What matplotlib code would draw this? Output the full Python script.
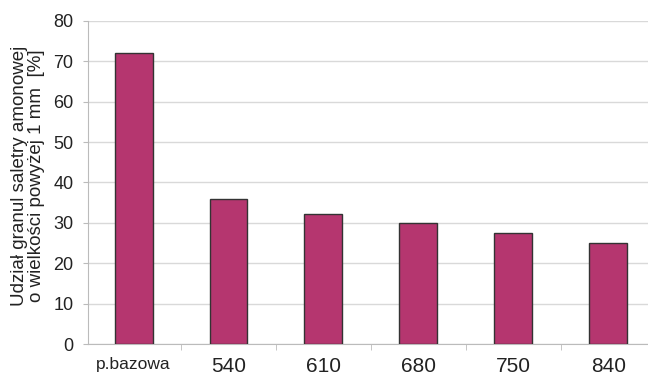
import matplotlib
matplotlib.use('Agg')
import matplotlib.pyplot as plt
import numpy as np

plt.rcParams['font.family'] = ['Liberation Sans', 'DejaVu Sans']

categories = ['p.bazowa', '540', '610', '680', '750', '840']
values = [72.0, 36.0, 32.3, 30.0, 27.6, 24.9]
yticks = [0, 10, 20, 30, 40, 50, 60, 70, 80]

fig = plt.figure(figsize=(6.48, 3.77), dpi=100)
ax = fig.add_axes([0.1358, 0.0875, 0.879, 0.857])

x = np.arange(len(categories))
ax.bar(x, values, width=0.4, color='#B5366F', edgecolor='#333333', linewidth=1.0, zorder=3)

ax.set_xlim(-0.48, len(categories) - 0.48)
ax.set_ylim(0, 80)
ax.set_yticks(yticks)
ax.set_yticklabels([str(t) for t in yticks], fontsize=13, color='#222222')
ax.yaxis.grid(True, color='#d9d9d9', linewidth=1.0, zorder=0)

ax.set_xticks(x)
ax.set_xticklabels(categories, color='#222222')
for i, lbl in enumerate(ax.get_xticklabels()):
    lbl.set_fontsize(12.5 if i == 0 else 15)
ax.set_xticks(np.arange(len(categories)) + 0.5, minor=True)
ax.tick_params(axis='x', which='major', length=0, pad=9)
ax.tick_params(axis='x', which='minor', length=4, color='#bbbbbb')
ax.tick_params(axis='y', length=3.6, color='#bbbbbb', pad=7)

for s in ['top', 'right']:
    ax.spines[s].set_visible(False)
for s in ['left', 'bottom']:
    ax.spines[s].set_color('#bbbbbb')

ax.set_ylabel('Udział granul saletry amonowej\no wielkości powyżej 1 mm  [%]',
              fontsize=13.5, color='#222222', linespacing=1.05)
ax.yaxis.set_label_coords(-0.075, 0.52)

fig.savefig('out.png', dpi=100)
